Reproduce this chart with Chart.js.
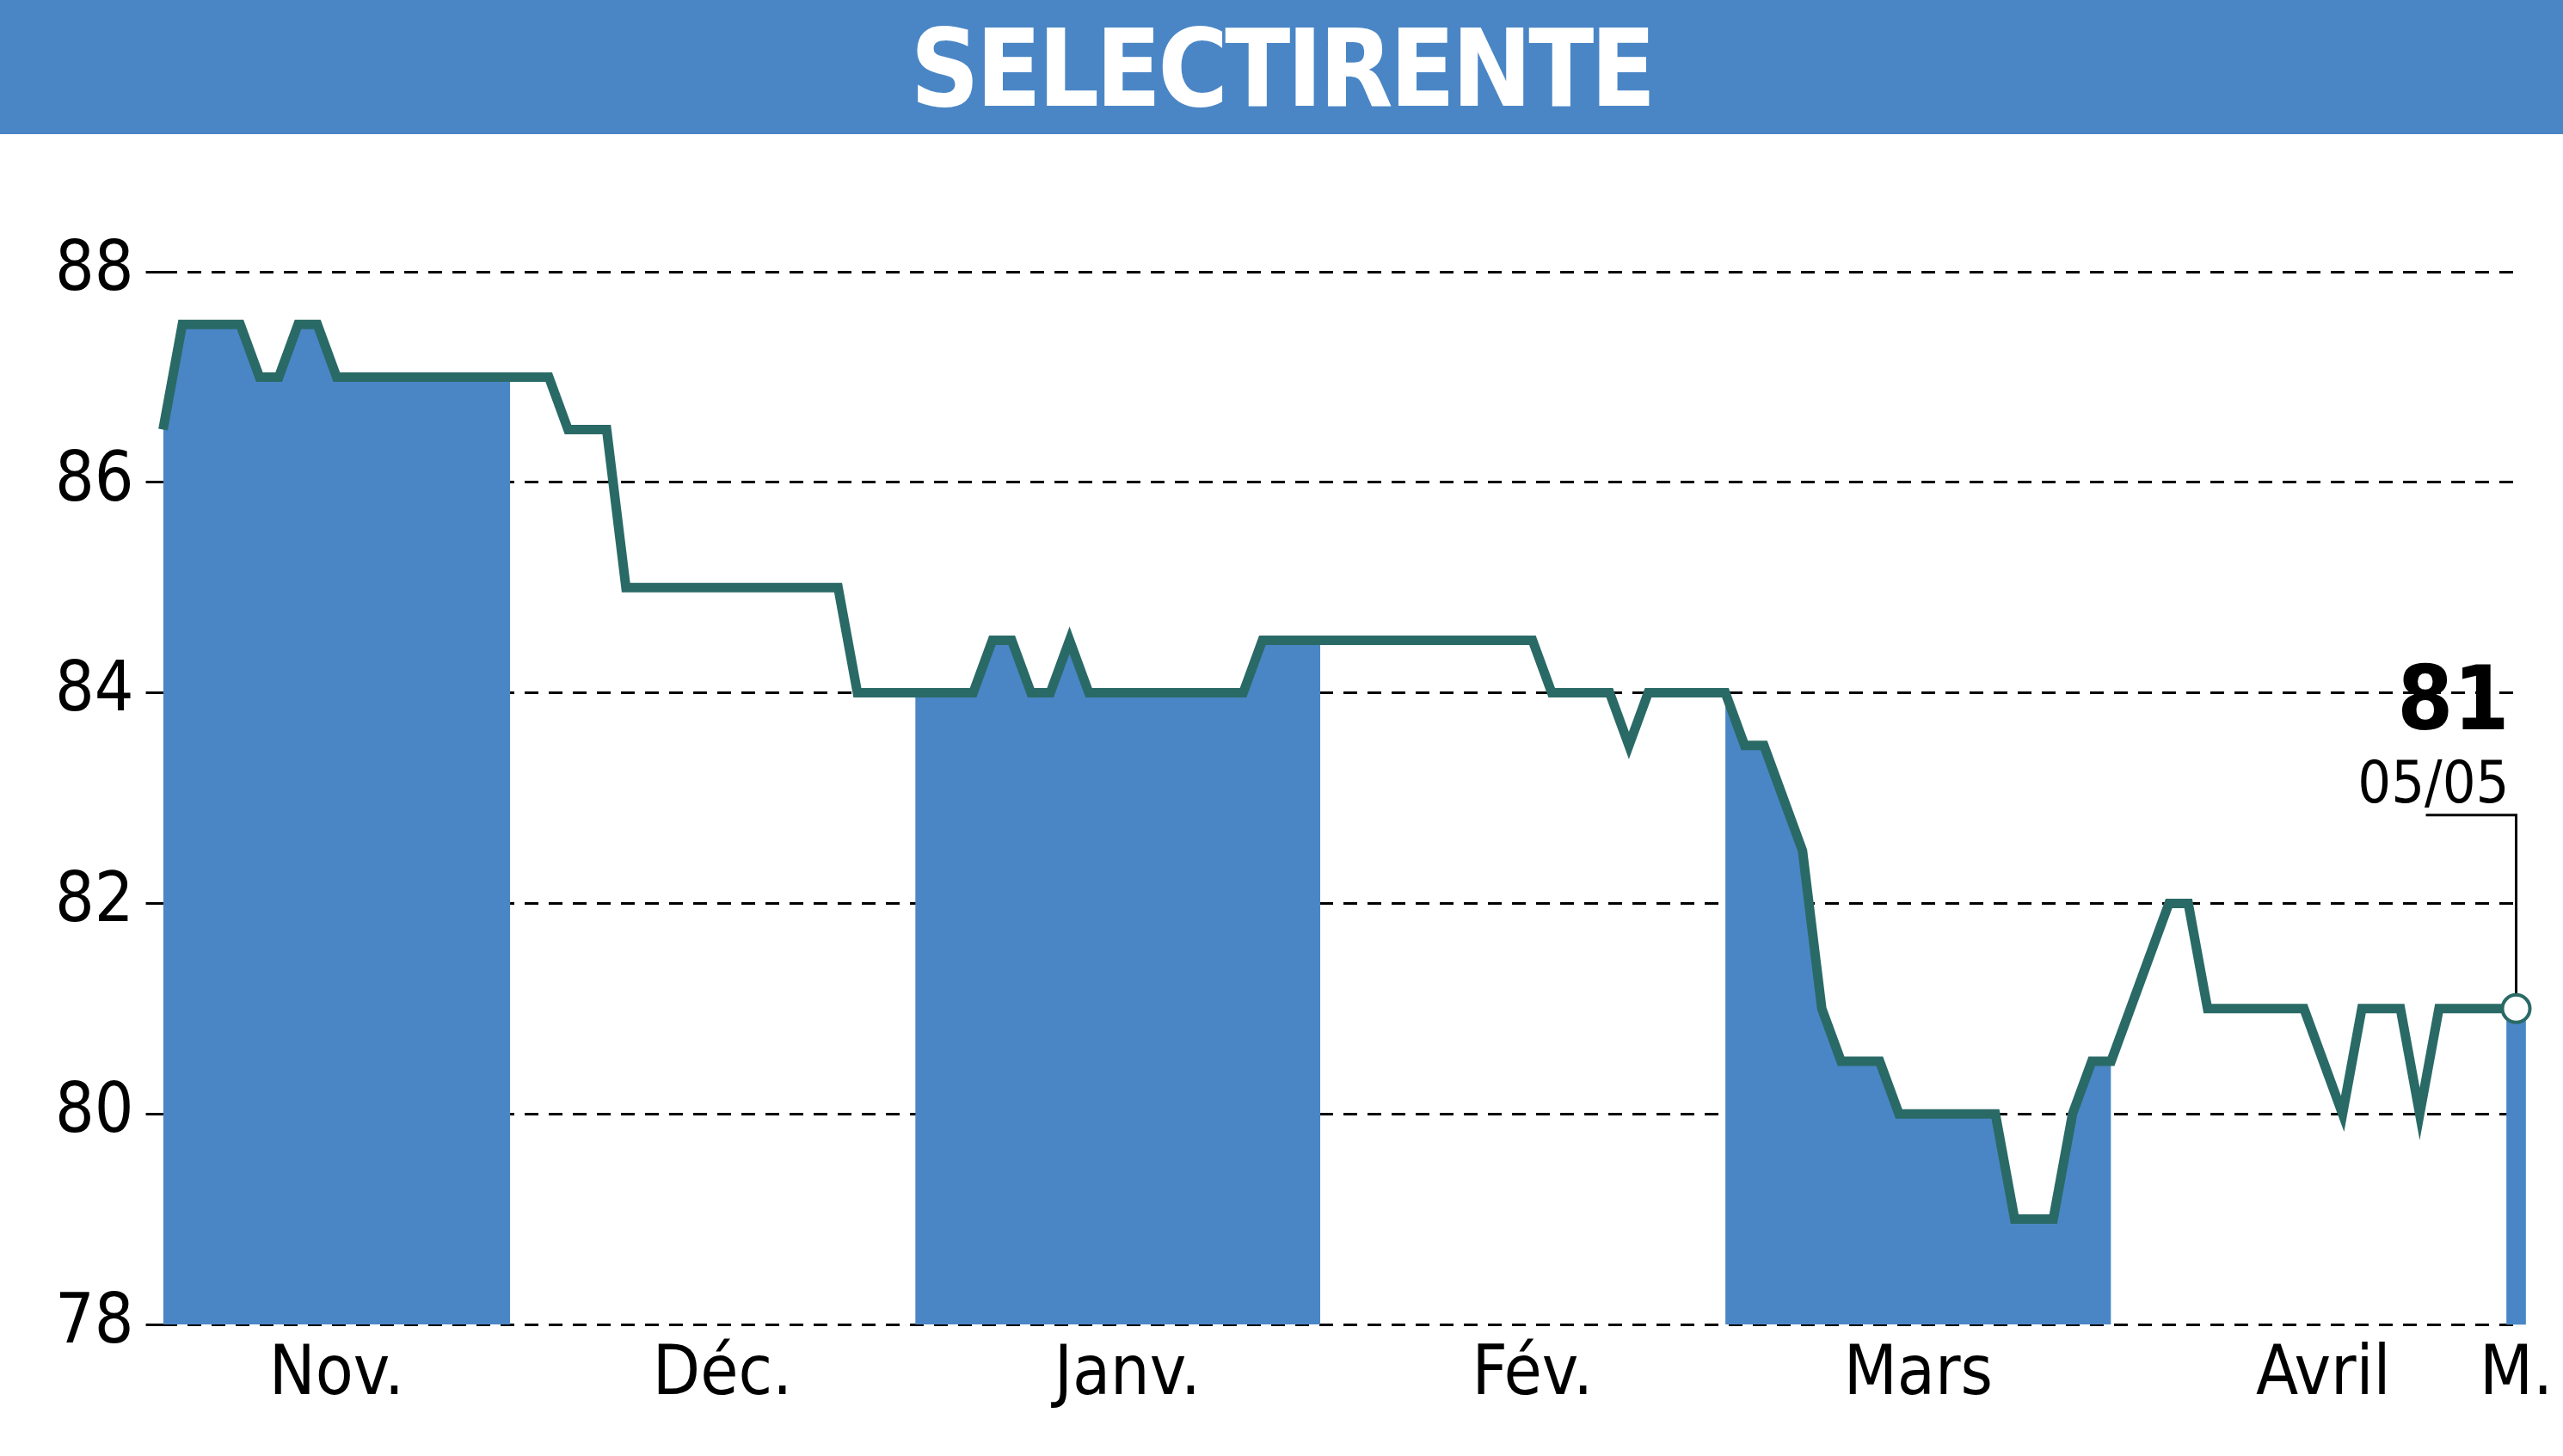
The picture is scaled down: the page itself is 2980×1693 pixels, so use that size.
<!DOCTYPE html>
<html>
<head>
<meta charset="utf-8">
<script src="https://cdn.jsdelivr.net/npm/chart.js@4"></script>
<style>
  body { margin: 0; background: #fff; font-family: "Liberation Sans Narrow", "DejaVu Sans Condensed", sans-serif; }
  #banner { height: 156px; background: #4a86c5; color: #fff; text-align: center; font-weight: bold; font-size: 124px; line-height: 160px; letter-spacing: -4px; }
  #wrap { width: 2980px; height: 1537px; position: relative; }
</style>
</head>
<body>
<div id="banner">SELECTIRENTE</div>
<div id="wrap"><canvas id="Chart"></canvas></div>
<script>
// cours par mois (un point par séance)
var nov = [86.5, 87.5, 87.5, 87.5, 87.5, 87, 87, 87.5, 87.5, 87, 87, 87, 87, 87, 87, 87, 87, 87, 87];
var dec = [87, 87, 86.5, 86.5, 86.5, 85, 85, 85, 85, 85, 85, 85, 85, 85, 85, 85, 85, 84, 84, 84];
var jan = [84, 84, 84, 84, 84.5, 84.5, 84, 84, 84.5, 84, 84, 84, 84, 84, 84, 84, 84, 84, 84.5, 84.5, 84.5, 84.5];
var fev = [84.5, 84.5, 84.5, 84.5, 84.5, 84.5, 84.5, 84.5, 84.5, 84.5, 84.5, 84, 84, 84, 84, 83.5, 84, 84, 84, 84];
var mars = [84, 83.5, 83.5, 83, 82.5, 81, 80.5, 80.5, 80.5, 80, 80, 80, 80, 80, 80, 79, 79, 79, 80, 80.5, 80.5];
var avril = [81, 81.5, 82, 82, 81, 81, 81, 81, 81, 81, 80.5, 80, 81, 81, 81, 80, 81, 81, 81, 81];
var mai = [81];
var monthNames = ['Nov.', 'Déc.', 'Janv.', 'Fév.', 'Mars', 'Avril', 'M.'];
var lastLabel = '05/05';
var yMin = 78, yMax = 88;

var months = [nov, dec, jan, fev, mars, avril, mai];
var prices = [].concat.apply([], months);
var labels = [];
var monthOf = [];
months.forEach(function(m, k) {
    for (var i = 0; i < m.length; i++) {
        labels.push(i === Math.floor(m.length / 2) ? monthNames[k] : '');
        monthOf.push(k);
    }
});
labels[labels.length - 1] = 'M.';

var BLUE = '#4a86c5';
var LINE = '#2a6a66';
var font = '"Liberation Sans Narrow", "DejaVu Sans Condensed", sans-serif';

// zones bleues un mois sur deux
var datasets = [{
    type: 'line',
    data: prices,
    borderColor: LINE,
    borderWidth: 11,
    pointRadius: 0,
    tension: 0,
    fill: false,
    order: 0
}];
[0, 2, 4].forEach(function(k) {
    datasets.push({
        type: 'line',
        data: prices.map(function(v, i) { return monthOf[i] === k ? v : null; }),
        borderWidth: 0,
        pointRadius: 0,
        backgroundColor: BLUE,
        fill: 'start',
        spanGaps: false,
        order: 2
    });
});
datasets.push({
    type: 'bar',
    data: prices.map(function(v, i) { return monthOf[i] === 6 ? [yMin, v] : null; }),
    backgroundColor: BLUE,
    barThickness: 22,
    clip: false,
    order: 2
});

var lastPoint = {
    id: 'lastPoint',
    afterDatasetsDraw: function(chart) {
        var c = chart.ctx;
        var meta = chart.getDatasetMeta(0);
        var p = meta.data[meta.data.length - 1];
        c.save();
        c.strokeStyle = '#000';
        c.lineWidth = 3;
        c.beginPath();
        c.moveTo(p.x, p.y);
        c.lineTo(p.x, p.y - 225);
        c.lineTo(p.x - 105, p.y - 225);
        c.stroke();
        c.fillStyle = '#000';
        c.textAlign = 'right';
        c.font = 'bold 104px ' + font;
        c.fillText(prices[prices.length - 1], p.x - 8, p.y - 325);
        c.font = '68px ' + font;
        c.fillText(lastLabel, p.x - 8, p.y - 240);
        c.beginPath();
        c.arc(p.x, p.y, 16, 0, Math.PI * 2);
        c.fillStyle = '#fff';
        c.fill();
        c.lineWidth = 4;
        c.strokeStyle = LINE;
        c.stroke();
        c.restore();
    }
};

const chart = new Chart(document.getElementById('Chart'), {
    data: { labels: labels, datasets: datasets },
    plugins: [lastPoint],
    options: {
        responsive: true,
        maintainAspectRatio: false,
        animation: false,
        layout: { padding: { top: 160, right: 48, left: 50, bottom: 33 } },
        plugins: { legend: { display: false }, tooltip: { enabled: false } },
        scales: {
            x: {
                offset: false,
                grid: { display: false, drawTicks: false },
                border: { display: false },
                ticks: { autoSkip: false, maxRotation: 0, color: '#000', font: { family: font, size: 80 }, padding: 12 }
            },
            y: {
                min: yMin, max: yMax,
                ticks: { stepSize: 2, color: '#000', font: { family: font, size: 80 }, padding: 14 },
                border: { display: false, dash: [16, 12] },
                grid: { color: '#000', lineWidth: 3, drawTicks: true, tickLength: 20 }
            }
        }
    }
});
</script>
</body>
</html>
